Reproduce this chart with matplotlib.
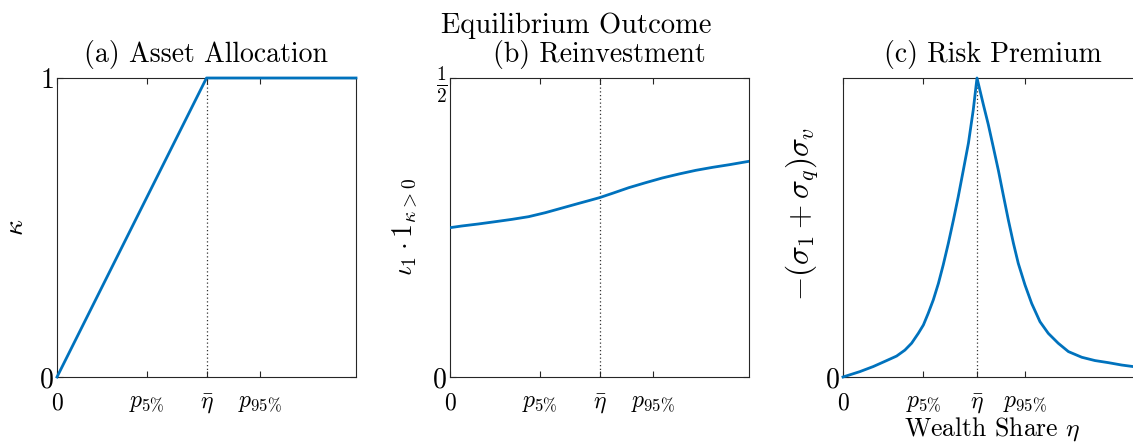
import matplotlib
matplotlib.use("Agg")
import matplotlib.pyplot as plt

plt.rcParams['mathtext.fontset'] = 'cm'
plt.rcParams['font.family'] = ['cmr10', 'DejaVu Serif']
plt.rcParams['axes.unicode_minus'] = False

# ---- data ----
p5 = 0.30
eta_bar = 0.50
p95 = 0.68
x_ticks = [0, p5, eta_bar, p95]
x_ticklabels = [r'$0$', r'$p_{5\%}$', r'$\bar{\eta}$', r'$p_{95\%}$']

# (a) asset allocation kappa
a_x = [0.0, 0.5, 1.0]
a_y = [0.0, 1.0, 1.0]

# (b) reinvestment
b_x = [0.0, 0.039, 0.095, 0.151, 0.207, 0.263, 0.319, 0.375, 0.431, 0.464, 0.5,
       0.543, 0.598, 0.654, 0.710, 0.766, 0.822, 0.878, 0.934, 1.0]
b_y = [0.2497, 0.2525, 0.2559, 0.2597, 0.2636, 0.2681, 0.2748, 0.2826, 0.2904, 0.2949, 0.2999,
       0.3071, 0.3166, 0.3249, 0.3328, 0.3395, 0.3456, 0.3506, 0.3550, 0.3607]

# (c) risk premium (normalised)
c_x = [0.0, 0.063, 0.113, 0.163, 0.200, 0.231, 0.256, 0.281, 0.300, 0.318, 0.337,
       0.356, 0.374, 0.393, 0.412, 0.430, 0.449, 0.468, 0.486, 0.5,
       0.524, 0.542, 0.561, 0.580, 0.598, 0.617, 0.636, 0.654, 0.679, 0.704,
       0.735, 0.766, 0.803, 0.841, 0.891, 0.940, 0.990, 1.040, 1.082, 1.116]
c_y = [0.0, 0.018, 0.035, 0.055, 0.070, 0.090, 0.113, 0.146, 0.174, 0.213, 0.258,
       0.313, 0.375, 0.447, 0.525, 0.603, 0.692, 0.782, 0.893, 1.0,
       0.910, 0.845, 0.768, 0.690, 0.609, 0.525, 0.447, 0.380, 0.308, 0.246,
       0.185, 0.146, 0.113, 0.085, 0.066, 0.055, 0.048, 0.040, 0.035, 0.031]

blue = '#0072BD'
spine_col = '#262626'

fig = plt.figure(figsize=(11.33, 4.43), dpi=100)
W, H = 1133.0, 443.0
aw, ah = 299 / W, 299 / H
bottom = (443 - 377) / H
ax_a = fig.add_axes([57 / W, bottom, aw, ah])
ax_b = fig.add_axes([450 / W, bottom, aw, ah])
ax_c = fig.add_axes([843 / W, bottom, aw, ah])

def style(ax, xmax):
    ax.set_xlim(0, xmax)
    ax.set_xticks(x_ticks)
    ax.set_xticklabels(x_ticklabels)
    ax.tick_params(direction='in', top=True, right=True, length=4, width=0.8,
                   color=spine_col)
    ax.tick_params(axis='x', labelsize=17, pad=11)
    ax.tick_params(axis='y', labelsize=20, pad=2)
    for s in ax.spines.values():
        s.set_color(spine_col)
        s.set_linewidth(0.8)
    ax.axvline(eta_bar, color='#333333', lw=0.9, ls=(0, (1, 2)), zorder=1)
    ax.set_title(ax.get_title(), fontsize=20, pad=11.5)

# (a)
ax_a.plot(a_x, a_y, color=blue, lw=2.0, clip_on=False, zorder=3)
ax_a.set_ylim(0, 1)
ax_a.set_yticks([0, 1])
ax_a.set_yticklabels([r'$0$', r'$1$'])
ax_a.set_title('(a) Asset Allocation')
style(ax_a, 1.0)
ax_a.set_ylabel(r'$\kappa$', fontsize=20)
ax_a.yaxis.set_label_coords((29 - 57) / 299, 0.5)

# (b)
ax_b.plot(b_x, b_y, color=blue, lw=2.0, zorder=3)
ax_b.set_ylim(0, 0.5)
ax_b.set_yticks([0, 0.5])
ax_b.set_yticklabels([r'$0$', r'$\frac{1}{2}$'])
ax_b.set_title('(b) Reinvestment')
style(ax_b, 1.0)
ax_b.set_ylabel(r'$\iota_1\cdot\mathbf{1}_{\kappa>0}$', fontsize=20)
ax_b.yaxis.set_label_coords((420 - 450) / 299, 0.5)

# (c)
xmax_c = 299 / 268
ax_c.plot(c_x, c_y, color=blue, lw=2.0, zorder=3, clip_on=False)
ax_c.set_ylim(0, 1)
ax_c.set_yticks([0])
ax_c.set_yticklabels([r'$0$'])
ax_c.set_title('(c) Risk Premium')
style(ax_c, xmax_c)
ax_c.set_ylabel(r'$-(\sigma_1+\sigma_q)\sigma_v$', fontsize=22.5)
ax_c.yaxis.set_label_coords((821 - 843) / 299, (377 - 214) / 299)
ax_c.set_xlabel(r'Wealth Share $\eta$', fontsize=18.5)
ax_c.xaxis.set_label_coords(0.5, (377 - 415) / 299)

fig.text(576 / W, (443 - 33) / H, 'Equilibrium Outcome', fontsize=20.5,
         ha='center', va='baseline')

fig.savefig('out.png', dpi=100)
